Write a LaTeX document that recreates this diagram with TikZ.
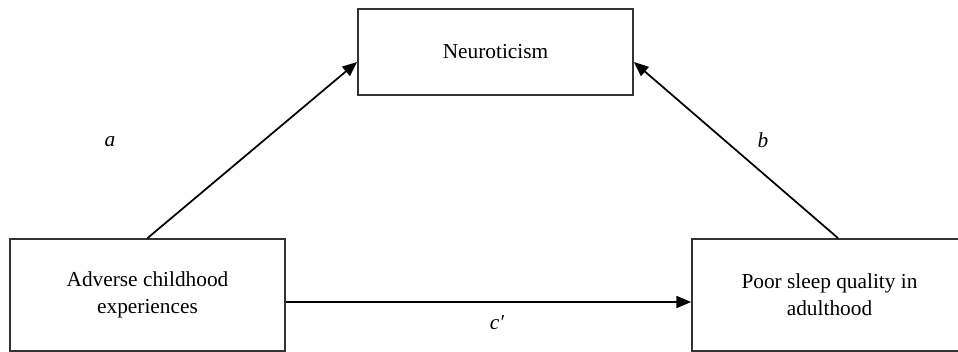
\documentclass[tikz,border=0pt]{standalone}
\usepackage{fontspec}
\setmainfont{Liberation Serif}
\usetikzlibrary{arrows.meta}
\begin{document}
\begin{tikzpicture}[x=0.75pt,y=-0.75pt,
  box/.style={draw=black!80,line width=1.3pt,rectangle,inner sep=0pt,
    minimum width=206.25pt,align=center,font=\fontsize{16}{20}\selectfont},
  conn/.style={draw=black,line width=1.3pt,-{Triangle[length=11pt,width=9pt]}},
  lab/.style={font=\fontsize{16}{20}\selectfont\itshape,inner sep=0pt}]
\useasboundingbox (0,0) rectangle (958,352);
\clip (0,0) rectangle (958,352);
\node[box,minimum height=64.5pt] (neu) at (495.5,52) {Neuroticism};
\node[box,minimum height=84pt] (ace) at (147.5,295) {Adverse childhood\\experiences};
\node[box,minimum height=84pt] (psq) at (829.5,295) {Poor sleep quality in\\adulthood};
\draw[conn] (ace.north) -- ([yshift=-7.5pt]neu.west);
\draw[conn] ([xshift=6.4pt]psq.north) -- ([yshift=-7.5pt]neu.east);
\draw[conn] ([yshift=-5.25pt]ace.east) -- ([yshift=-5.25pt]psq.west);
\node[lab] (la) at (110,142) {a};
\node[lab] (lb) at (763,140) {b};
\node[lab] (lc) at (497,323) {c′};
\end{tikzpicture}
\end{document}
